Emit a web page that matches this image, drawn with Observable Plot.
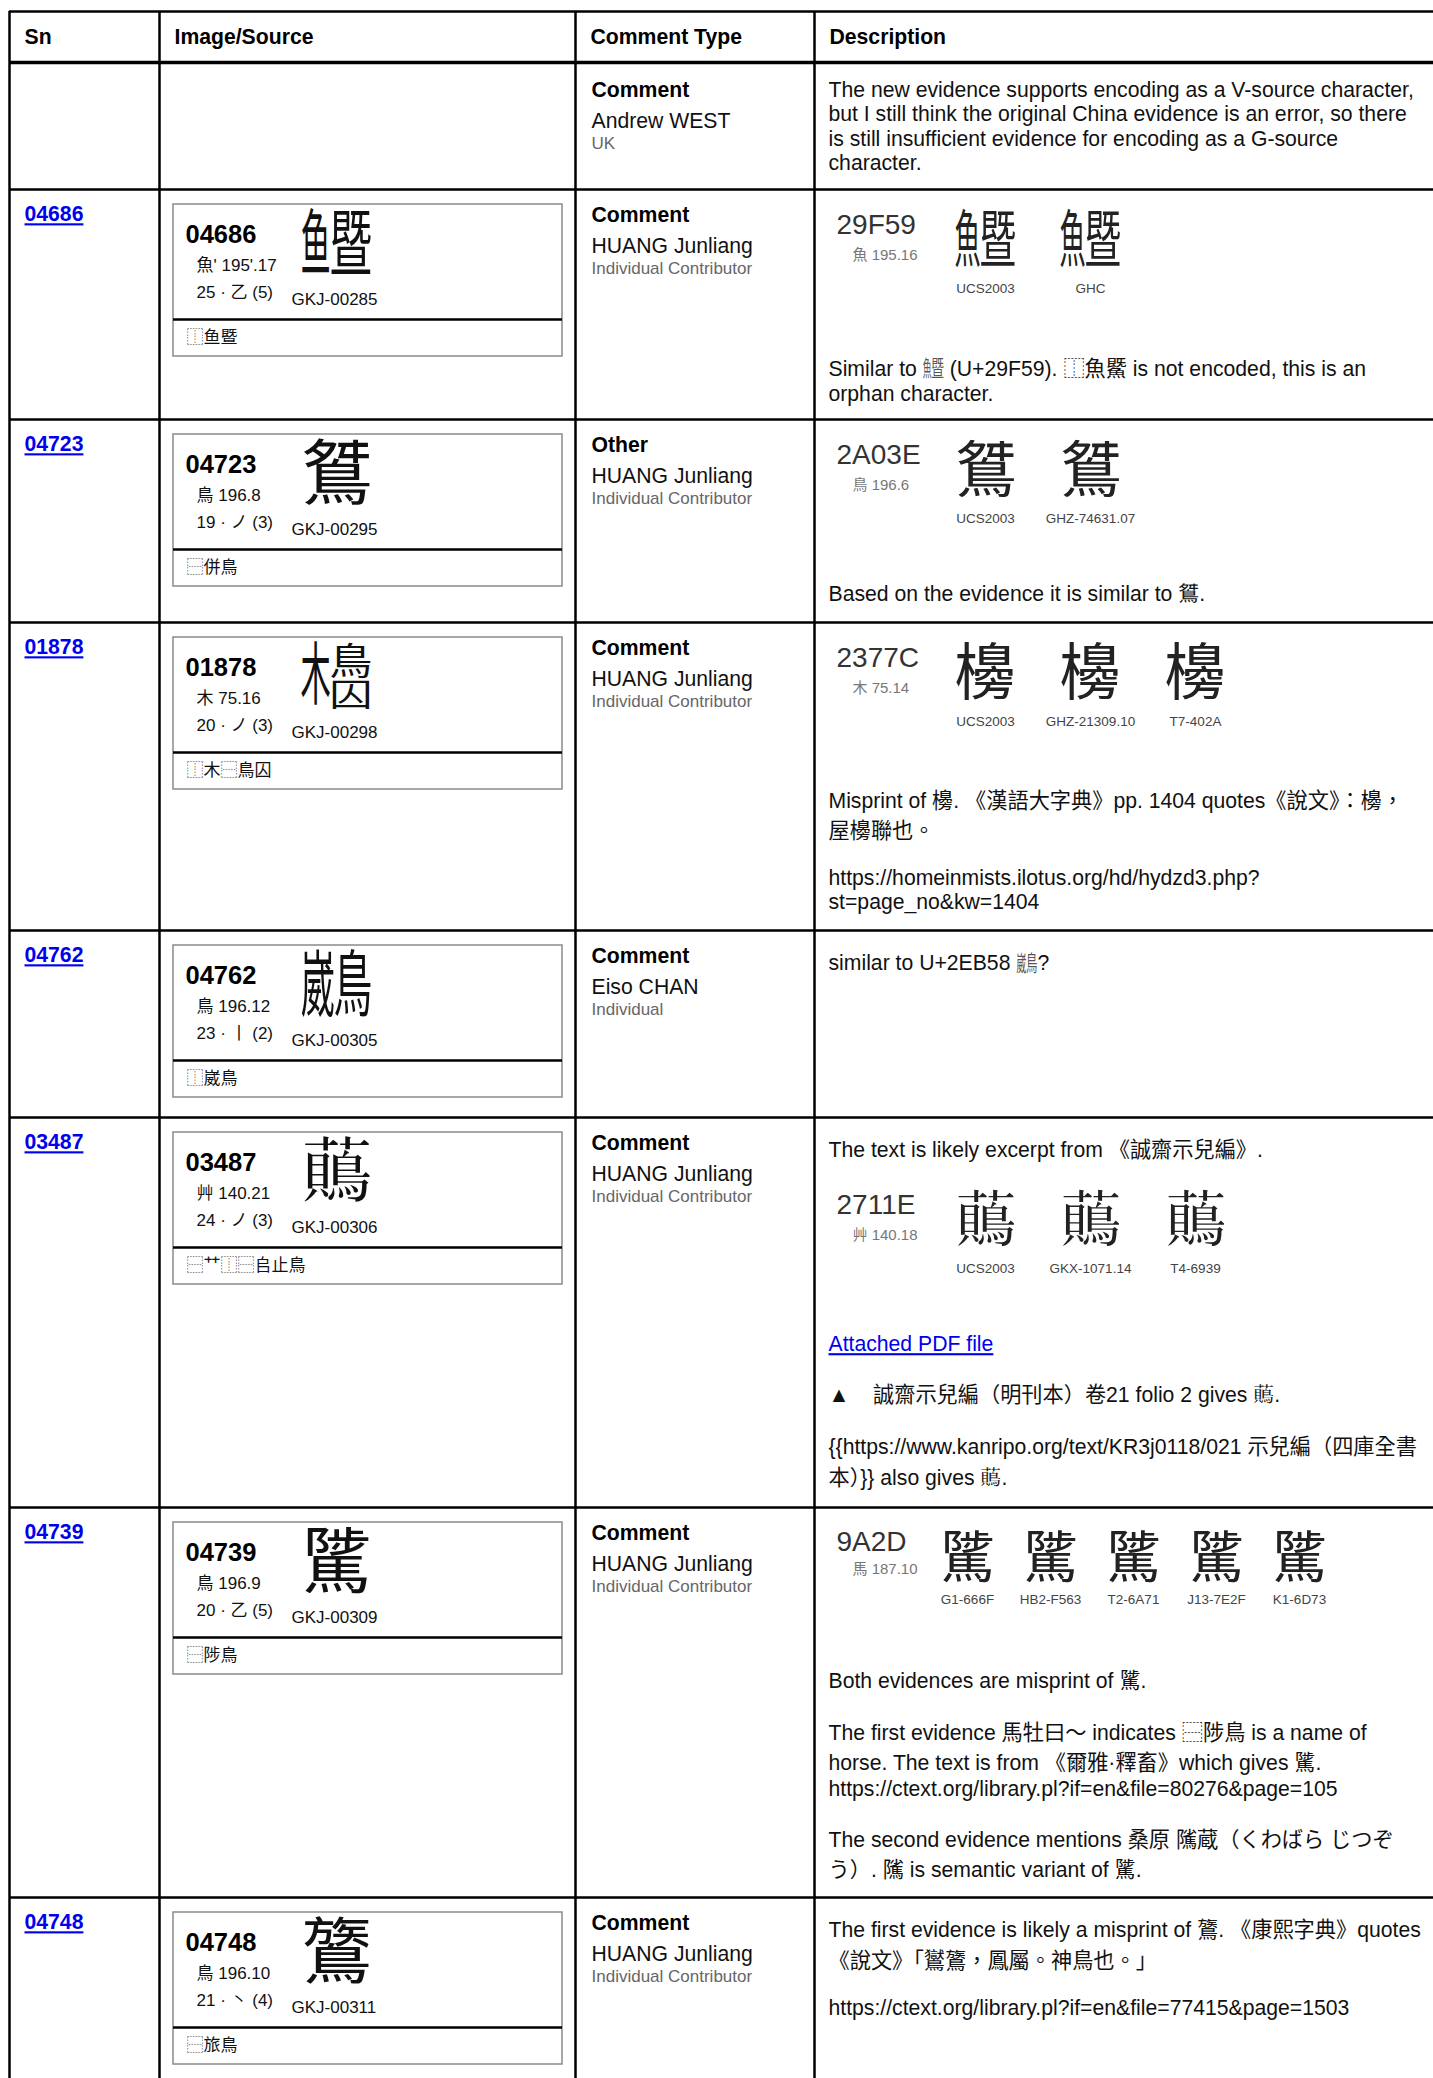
<!DOCTYPE html>
<html>
<head>
<meta charset="utf-8">
<script src="https://cdn.jsdelivr.net/npm/d3@7"></script>
<script src="https://cdn.jsdelivr.net/npm/@observablehq/plot@0.6"></script>
<style>
html, body { margin: 0; padding: 0; background: #fff; overflow: hidden; }
#chart svg { display: block; }
</style>
</head>
<body>
<div id="chart"></div>
<script>
// ---------------- DATA ----------------
const headers = ["Sn", "Image/Source", "Comment Type", "Description"];
const sns = ["", "04686", "04723", "01878", "04762", "03487", "04739", "04748"];
const commentTypes = ["Comment", "Comment", "Other", "Comment", "Comment", "Comment", "Comment", "Comment"];
const authors = ["Andrew WEST", "HUANG Junliang", "HUANG Junliang", "HUANG Junliang", "Eiso CHAN", "HUANG Junliang", "HUANG Junliang", "HUANG Junliang"];
const affiliations = ["UK", "Individual Contributor", "Individual Contributor", "Individual Contributor", "Individual", "Individual Contributor", "Individual Contributor", "Individual Contributor"];
const radicals = [null, "魚' 195'.17", "鳥 196.8", "木 75.16", "鳥 196.12", "艸 140.21", "鳥 196.9", "鳥 196.10"];
const strokes = [null, "25 · 乙 (5)", "19 · ノ (3)", "20 · ノ (3)", "23 · 丨 (2)", "24 · ノ (3)", "20 · 乙 (5)", "21 · 丶 (4)"];
const sourceRefs = [null, "GKJ-00285", "GKJ-00295", "GKJ-00298", "GKJ-00305", "GKJ-00306", "GKJ-00309", "GKJ-00311"];
const idsStrings = [null, "⿰鱼暨", "⿱併鳥", "⿰木⿱鳥囚", "⿰崴鳥", "⿱艹⿰⿱\u{200A4}止鳥", "⿱陟鳥", "⿱旅鳥"];
// glyph shown in each Image/Source box (unencoded ones are written as their IDS)
const sourceGlyphs = [null, "⿰鱼暨", "\u{2A03E}", "⿰木⿱鳥囚", "⿰崴鳥", "\u{2711E}", "騭", "鷟"];

const evidence1 = {code: "29F59", radical: "魚 195.16", glyph: "\u{29F59}", labels: ["UCS2003", "GHC"]};
const evidence2 = {code: "2A03E", radical: "鳥 196.6", glyph: "\u{2A03E}", labels: ["UCS2003", "GHZ-74631.07"]};
const evidence3 = {code: "2377C", radical: "木 75.14", glyph: "\u{2377C}", labels: ["UCS2003", "GHZ-21309.10", "T7-402A"]};
const evidence5 = {code: "2711E", radical: "艸 140.18", glyph: "\u{2711E}", labels: ["UCS2003", "GKX-1071.14", "T4-6939"]};
const evidence6 = {code: "9A2D", radical: "馬 187.10", glyph: "騭", labels: ["G1-666F", "HB2-F563", "T2-6A71", "J13-7E2F", "K1-6D73"]};

const descriptions = [
  [["The new evidence supports encoding as a V-source character,",
    "but I still think the original China evidence is an error, so there",
    "is still insufficient evidence for encoding as a G-source",
    "character."]],
  [evidence1,
   ["Similar to \u{29F59} (U+29F59). ⿰魚鱀 is not encoded, this is an",
    "orphan character."]],
  [evidence2,
   ["Based on the evidence it is similar to \u{2A03E}."]],
  [evidence3,
   ["Misprint of \u{2377C}. 《漢語大字典》pp. 1404 quotes《說文》：\u{2377C}，",
    "屋\u{2377C}聯也。"],
   ["https://homeinmists.ilotus.org/hd/hydzd3.php?",
    "st=page_no&kw=1404"]],
  [["similar to U+2EB58 \u{2EB58}?"]],
  [["The text is likely excerpt from 《誠齋示兒編》."],
   evidence5,
   [{link: "Attached PDF file"}],
   ["▲\u00a0\u00a0\u00a0\u00a0誠齋示兒編（明刊本）卷21 folio 2 gives \u{2711E}."],
   ["{{https://www.kanripo.org/text/KR3j0118/021 示兒編（四庫全書",
    "本）}} also gives \u{2711E}."]],
  [evidence6,
   ["Both evidences are misprint of 騭."],
   ["The first evidence 馬牡曰～ indicates ⿱陟鳥 is a name of",
    "horse. The text is from 《爾雅·釋畜》which gives 騭.",
    "https://ctext.org/library.pl?if=en&file=80276&page=105"],
   ["The second evidence mentions 桑原 隲蔵（くわばら じつぞ",
    "う）. 隲 is semantic variant of 騭."]],
  [["The first evidence is likely a misprint of 鷟. 《康熙字典》quotes",
    "《說文》「鸑鷟，鳳屬。神鳥也。」"],
   ["https://ctext.org/library.pl?if=en&file=77415&page=1503"]]
];

// characters the installed fonts lack: drawn from components [char, left, top, width, height] (em fractions)
const composites = {
  "\u{29F59}": [["魚", 0, 0, 0.42, 1], ["暨", 0.40, 0, 0.60, 1]],
  "⿰鱼暨": [["鱼", 0, 0, 0.42, 1], ["暨", 0.40, 0, 0.60, 1]],
  "\u{2EB58}": [["崴", 0, 0, 0.48, 1], ["鳥", 0.46, 0, 0.54, 1]],
  "⿰崴鳥": [["崴", 0, 0, 0.48, 1], ["鳥", 0.46, 0, 0.54, 1]],
  "⿰木⿱鳥囚": [["木", 0, 0.02, 0.42, 0.94], ["鳥", 0.40, 0.02, 0.60, 0.52], ["囚", 0.40, 0.52, 0.60, 0.44]]
};
const substitutes = {"\u{2377C}": "櫋"};

// ---------------- LAYOUT ----------------
const W = 1433, H = 2078;
const FONT = "'Liberation Sans', Arial, 'Noto Sans CJK TC', sans-serif";
const CJK = "'Noto Sans CJK TC', 'Noto Sans CJK SC', sans-serif";
const colX = [9, 159, 575, 814];
const gridTop = 11;
const rowTops = [62, 189, 419, 622, 930, 1117, 1507, 1897];
const blockHeights = [null, 125, 120, 124, null, 126, 119, null];
const BODY = 21.2, SMALL = 17, BIG = 72;

const ctx = document.createElement("canvas").getContext("2d");
const measure = (s, size) => { ctx.font = `${size}px ${FONT}`; return ctx.measureText(s).width; };
const hasCJK = s => /[\u2e80-\u9fff\uff00-\uffef\u{20000}-\u{3ffff}]/u.test(s);
const sub = s => Array.from(s).map(c => substitutes[c] || c).join("");

const items = {header: [], link: [], boxNum: [], small: [], bigGlyph: [], typeBold: [], body: [], affil: [],
  code: [], rad: [], glyphStd: [], glyphCmp: [], label: [], linkReg: []};
const comps = []; // {x, y, t, size, sx, sy, fill}

function addGlyph(target, g, cx, cy, size, fill) {
  const parts = composites[g];
  if (!parts) { target.push({x: cx, y: cy, t: sub(g)}); return; }
  parts.forEach(([c, bx, by, bw, bh]) => {
    const m = Math.min(bw, bh);
    comps.push({
      x: cx + (bx + bw / 2 - 0.5) * size, y: cy + (by + bh / 2 - 0.5) * size,
      t: c, size: +(size * m).toFixed(2), sx: +(bw / m).toFixed(3), sy: +(bh / m).toFixed(3), fill
    });
  });
}

// a text line that may contain composite characters
function addLine(target, s, x, cy) {
  const chars = Array.from(s);
  if (!chars.some(c => composites[c])) { target.push({x, y: cy, t: sub(s)}); return; }
  let prefix = "", seg = "";
  const flush = () => {
    if (seg.trim()) {
      const lead = seg.match(/^\s*/)[0];
      target.push({x: x + measure(sub(prefix + lead), BODY), y: cy, t: sub(seg.trim())});
    }
    prefix += seg; seg = "";
  };
  chars.forEach(c => {
    if (composites[c]) {
      flush();
      const x0 = x + measure(sub(prefix), BODY);
      addGlyph(null, c, x0 + BODY / 2, cy + 0.02 * BODY, BODY, "#555");
      prefix += "國"; // one full-width cell
    } else seg += c;
  });
  flush();
}

headers.forEach((h, i) => items.header.push({x: colX[i] + 15, y: 37, t: h}));

const boxes = [];
rowTops.forEach((top, r) => {
  if (sns[r]) items.link.push({x: 24, y: top + 25, t: sns[r]});
  if (sourceRefs[r]) {
    boxes.push(top);
    items.boxNum.push({x: 185, y: top + 45, t: sns[r]});
    items.small.push({x: 196, y: top + 76, t: radicals[r]});
    items.small.push({x: 196, y: top + 103, t: strokes[r]});
    items.small.push({x: 291, y: top + 110, t: sourceRefs[r]});
    items.small.push({x: 186, y: top + 148, t: idsStrings[r]});
    addGlyph(items.bigGlyph, sourceGlyphs[r], 336, top + 56, BIG, "#111");
  }
  const ctTop = r === 0 ? top + 2 : top;
  items.typeBold.push({x: 591, y: ctTop + 26, t: commentTypes[r]});
  items.body.push({x: 591, y: ctTop + 57, t: authors[r]});
  items.affil.push({x: 591, y: ctTop + 79, t: affiliations[r]});
  let y = top + 16;
  descriptions[r].forEach((para, pi) => {
    if (pi > 0) y += 21.2;
    if (Array.isArray(para)) {
      para.forEach(line => {
        const isLink = typeof line === "object";
        const s = isLink ? line.link : line;
        const cjk = hasCJK(s);
        const asc = cjk ? 24.6 : 19.2;
        const lh = cjk ? 30.7 : 24.4;
        addLine(isLink ? items.linkReg : items.body, s, 828, y + asc - 0.35 * BODY);
        y += lh;
      });
    } else {
      const compact = para.labels.length > 3;
      const x0 = compact ? 967 : 985, dx = compact ? 83 : 105;
      const gs = compact ? 56 : 62;
      items.code.push({x: 836, y: y + (compact ? 19 : 20), t: para.code});
      items.rad.push({x: 852, y: y + (compact ? 46 : 50), t: para.radical});
      para.labels.forEach((lab, k) => {
        addGlyph(compact ? items.glyphCmp : items.glyphStd, para.glyph, x0 + k * dx, y + (compact ? 36 : 37), gs, "#222");
        items.label.push({x: x0 + k * dx, y: y + (compact ? 76 : 83), t: lab});
      });
      y += blockHeights[r];
    }
  });
});

const T = (data, o) => Plot.text(data, {
  x: "x", y: "y", text: "t",
  textAnchor: o.anchor || "start", lineAnchor: "middle",
  fontSize: o.size, fontWeight: o.weight || "normal",
  fill: o.fill || "#000", fontFamily: o.family || FONT,
  ariaDescription: o.desc
});

const compMarks = Array.from(d3.group(comps, d => `${d.size}|${d.sx}|${d.sy}|${d.fill}`), ([key, arr]) => {
  const [size, sx, sy, fill] = key.split("|");
  return T(arr, {size: +size, family: CJK, fill, anchor: "middle", desc: `scale ${sx} ${sy}`});
});

const hLines = [gridTop, ...rowTops.slice(1)];
const svg = Plot.plot({
  width: W, height: H, margin: 0,
  x: {domain: [0, W], range: [0, W], axis: null},
  y: {domain: [0, H], range: [0, H], axis: null},
  style: {fontFamily: FONT, background: "#fff", color: "#000"},
  marks: [
    Plot.rect(boxes, {x1: () => 173, x2: () => 562, y1: d => d + 15, y2: d => d + 167, fill: "none", stroke: "#8a8a8a", strokeWidth: 1.5}),
    Plot.ruleY(boxes, {y: d => d + 130, x1: () => 173, x2: () => 562, stroke: "#000", strokeWidth: 2.5}),
    Plot.ruleY(hLines, {y: d => d, x1: () => colX[0], x2: () => W, stroke: "#000", strokeWidth: 2.5}),
    Plot.ruleY([rowTops[0]], {y: d => d, x1: () => colX[0], x2: () => W, stroke: "#000", strokeWidth: 3.5}),
    Plot.ruleX(colX, {x: d => d, y1: () => gridTop, y2: () => H, stroke: "#000", strokeWidth: 2.5}),
    T(items.header, {size: BODY, weight: "bold"}),
    T(items.link, {size: BODY, weight: "bold", fill: "#0000ee", desc: "link"}),
    T(items.boxNum, {size: 25.5, weight: "bold"}),
    T(items.small, {size: SMALL, fill: "#111"}),
    T(items.bigGlyph, {size: BIG, family: CJK, fill: "#111", anchor: "middle"}),
    T(items.typeBold, {size: BODY, weight: "bold"}),
    T(items.body, {size: BODY, fill: "#111"}),
    T(items.affil, {size: SMALL, fill: "#666"}),
    T(items.code, {size: 28, fill: "#333"}),
    T(items.rad, {size: 15, fill: "#777"}),
    T(items.glyphStd, {size: 62, family: CJK, fill: "#222", anchor: "middle"}),
    T(items.glyphCmp, {size: 56, family: CJK, fill: "#222", anchor: "middle"}),
    T(items.label, {size: 13.5, fill: "#444", anchor: "middle"}),
    T(items.linkReg, {size: BODY, fill: "#0000ee", desc: "link"}),
    ...compMarks
  ]
});
d3.select(svg).selectAll('g[aria-description="link"] text').style("text-decoration", "underline");
d3.select(svg).selectAll("g[aria-description^='scale']").each(function() {
  const [, sx, sy] = this.getAttribute("aria-description").split(" ");
  d3.select(this).selectAll("text").each(function() {
    const t = this.getAttribute("transform");
    if (t) this.setAttribute("transform", `${t} scale(${sx},${sy})`);
    else {
      const x = +this.getAttribute("x") || 0, y = +this.getAttribute("y") || 0;
      this.removeAttribute("x"); this.removeAttribute("y");
      this.setAttribute("transform", `translate(${x},${y}) scale(${sx},${sy})`);
    }
  });
});
document.getElementById("chart").appendChild(svg);
</script>
</body>
</html>
